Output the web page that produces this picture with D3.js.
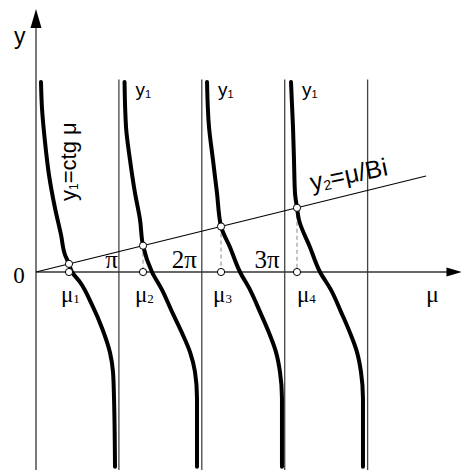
<!DOCTYPE html>
<html>
<head>
<meta charset="utf-8">
<script src="https://cdn.jsdelivr.net/npm/d3@7"></script>
<style>
  html, body { margin: 0; padding: 0; background: #fff; }
  svg { display: block; }
</style>
</head>
<body>
<svg id="chart" width="461" height="470"></svg>
<script>
// Branches of y1 = ctg(mu), mu expressed in multiples of pi: [mu/pi, y]
const branch1 = [[0.060,5.43],[0.072,4.69],[0.109,3.71],[0.157,2.77],[0.229,1.83],[0.302,1.06],[0.350,0.49],[0.398,0.23],[0.434,0],[0.531,-0.29],[0.676,-0.94],[0.796,-1.60],[0.893,-2.31],[0.929,-2.86],[0.941,-3.60],[0.953,-5.57]];
const branch2 = [[1.068,5.43],[1.086,4.14],[1.134,3.20],[1.194,2.26],[1.255,1.49],[1.291,0.75],[1.399,0],[1.520,-0.51],[1.641,-1.14],[1.761,-1.74],[1.858,-2.29],[1.918,-2.86],[1.942,-3.60],[1.942,-5.57]];
const branch3 = [[2.063,5.43],[2.087,4.14],[2.135,3.20],[2.183,2.26],[2.232,1.30],[2.340,0.71],[2.461,0],[2.582,-0.51],[2.702,-1.14],[2.811,-1.74],[2.895,-2.29],[2.943,-2.86],[2.967,-3.60],[2.967,-5.57]];
const branch4 = [[3.076,5.43],[3.100,4.14],[3.112,3.20],[3.124,2.26],[3.148,1.84],[3.172,1.49],[3.305,0.71],[3.426,0],[3.558,-0.51],[3.679,-1.14],[3.788,-1.74],[3.872,-2.29],[3.920,-2.86],[3.944,-3.60],[3.944,-5.57]];
const branches = [branch1, branch2, branch3, branch4];

// Roots mu_n of ctg(mu) = mu/Bi, in multiples of pi
const roots = [0.398, 1.291, 2.232, 3.148];
// Slope of the straight line y2 = mu/Bi (per pi)
const invBi = 0.583;
const lineEnd = 4.705;

// Multiples of pi marked by vertical asymptotes
const piMarks = [1, 2, 3, 4];
const piLabels = ["π", "2π", "3π"];
const rootLabels = ["1", "2", "3", "4"];

const SERIF = "'Liberation Serif', 'Times New Roman', 'DejaVu Serif', serif";
const SANS = "'Liberation Sans', Arial, sans-serif";

const svg = d3.select("#chart");
const x = d3.scaleLinear().domain([0, 5.1]).range([36, 458.8]);
const y = d3.scaleLinear().domain([-5.66, 7.49]).range([470, 10]);
const xMax = 5.12, yMin = -5.66, yMax = 7.49, yTop = 5.5;

// Vertical asymptotes mu = n*pi
svg.append("g").selectAll("line").data(piMarks).join("line")
  .attr("x1", d => x(d)).attr("x2", d => x(d))
  .attr("y1", y(yTop)).attr("y2", y(yMin))
  .attr("stroke", "#444").attr("stroke-width", 1.3);

// Axes
svg.append("line").attr("x1", x(0)).attr("x2", x(0))
  .attr("y1", y(yMin)).attr("y2", y(yMax) + 10)
  .attr("stroke", "#333").attr("stroke-width", 1.3);
svg.append("line").attr("x1", x(0)).attr("x2", x(xMax) - 10)
  .attr("y1", y(0)).attr("y2", y(0))
  .attr("stroke", "#333").attr("stroke-width", 1.3);
// Arrowheads
const ax = x(0), ay = y(yMax);
svg.append("path").attr("d", `M${ax},${ay - 1}L${ax - 5.5},${ay + 18}L${ax + 5.5},${ay + 18}Z`).attr("fill", "#000");
const bx = x(xMax), by = y(0);
svg.append("path").attr("d", `M${bx + 1},${by}L${bx - 14},${by - 4.5}L${bx - 14},${by + 4.5}Z`).attr("fill", "#000");

// Straight line y2 = mu/Bi
svg.append("line").attr("x1", x(0)).attr("y1", y(0))
  .attr("x2", x(lineEnd)).attr("y2", y(lineEnd * invBi))
  .attr("stroke", "#000").attr("stroke-width", 1.1);

// Dashed drops from intersections to the axis
svg.append("g").selectAll("line").data(roots).join("line")
  .attr("x1", d => x(d)).attr("x2", d => x(d))
  .attr("y1", d => y(d * invBi)).attr("y2", y(0))
  .attr("stroke", "#888").attr("stroke-width", 1)
  .attr("stroke-dasharray", "4,3");

// Cotangent branches
const line = d3.line().x(d => x(d[0])).y(d => y(d[1])).curve(d3.curveMonotoneY);
svg.append("g").selectAll("path").data(branches).join("path")
  .attr("d", line).attr("fill", "none")
  .attr("stroke", "#000").attr("stroke-width", 4).attr("stroke-linecap", "round");

// Intersection markers and roots on the axis
const markers = svg.append("g");
markers.selectAll("circle.i").data(roots).join("circle").attr("class", "i")
  .attr("cx", d => x(d)).attr("cy", d => y(d * invBi)).attr("r", 3.6)
  .attr("fill", "#fff").attr("stroke", "#000").attr("stroke-width", 1);
markers.selectAll("circle.r").data(roots).join("circle").attr("class", "r")
  .attr("cx", d => x(d)).attr("cy", y(0)).attr("r", 3.6)
  .attr("fill", "#fff").attr("stroke", "#000").attr("stroke-width", 1);

// Labels
svg.append("text").attr("font-family", SANS).attr("x", 14).attr("y", 44)
  .attr("font-size", 23).text("y");
svg.append("text").attr("font-family", SERIF).attr("x", 19).attr("y", 283)
  .attr("text-anchor", "middle").attr("font-size", 23).text("0");
svg.append("text").attr("font-family", SERIF).attr("x", x(xMax) - 28).attr("y", 302)
  .attr("text-anchor", "middle").attr("font-size", 24).text("μ");

svg.append("g").selectAll("text").data(piLabels).join("text")
  .attr("font-family", SERIF)
  .attr("x", (d, i) => x(piMarks[i]) - (i === 0 ? 1 : 5))
  .attr("y", y(0) - 4)
  .attr("text-anchor", "end").attr("font-size", 25)
  .text(d => d);

const rl = svg.append("g").selectAll("text").data(roots).join("text")
  .attr("font-family", SERIF)
  .attr("x", (d, i) => x(d) + (i === 3 ? 0 : -8))
  .attr("y", 302).attr("font-size", 23);
rl.append("tspan").text("μ");
rl.append("tspan").attr("font-size", 13).attr("dy", 1).text((d, i) => rootLabels[i]);

// y1 labels near the upper ends of branches 2-4
const yl = svg.append("g").selectAll("text").data(branches.slice(1)).join("text")
  .attr("font-family", SANS)
  .attr("x", d => x(d[0][0]) + 11).attr("y", 96).attr("font-size", 19);
yl.append("tspan").text("y");
yl.append("tspan").attr("font-size", 11).attr("dy", 2).text("1");

// Vertical label of the first branch
const ctg = svg.append("text").attr("font-family", SANS).attr("font-size", 22)
  .attr("transform", `translate(76,201) rotate(-90)`);
ctg.append("tspan").text("y");
ctg.append("tspan").attr("font-size", 12).attr("dy", 2).text("1");
ctg.append("tspan").attr("dy", -2).text("=ctg μ");

// Label of the straight line
const ang = -Math.atan((y(0) - y(invBi)) / (x(1) - x(0))) * 180 / Math.PI;
const y2 = svg.append("text").attr("font-family", SANS).attr("font-size", 25)
  .attr("transform", `translate(312,191) rotate(${ang + 2})`);
y2.append("tspan").text("y");
y2.append("tspan").attr("font-size", 14).attr("dy", 2).text("2");
y2.append("tspan").attr("dy", -2).text("=μ/Bi");
</script>
</body>
</html>
